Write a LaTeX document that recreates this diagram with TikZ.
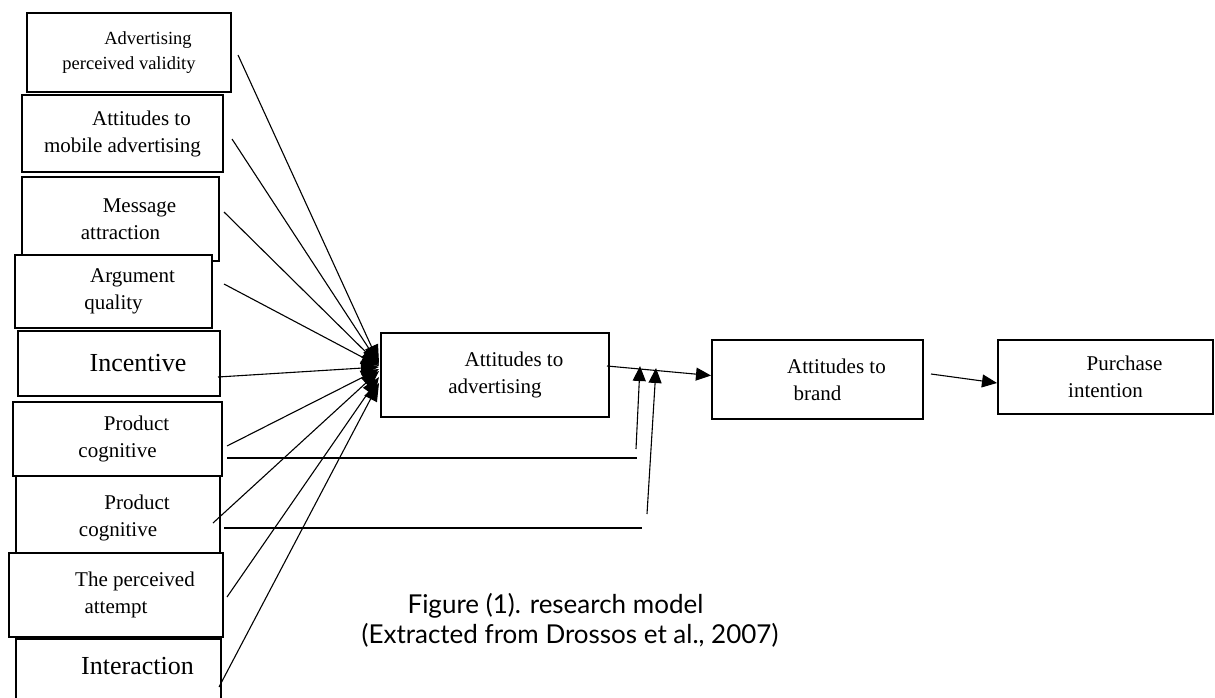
\documentclass[tikz,border=0pt]{standalone}
\usepackage{fontspec}
\setmainfont{Liberation Serif}
\newfontfamily\capfont{Lato}
\usepackage{tikz}
\usetikzlibrary{arrows.meta,calc,positioning}
\tikzset{
  box/.style={draw, fill=white, line width=2pt, inner sep=0pt, align=center,
  font=\fontsize{21}{27}\selectfont},
  link/.style={line width=1.1pt, -{Triangle[length=15pt,width=13pt]}},
  fan/.style={line width=1.1pt, -{Triangle[length=18pt,width=14pt]}},
  plain/.style={line width=1.1pt}
}
\newcommand{\ind}{\hspace*{38pt}}

\begin{document}
\begin{tikzpicture}[x=1pt,y=-1pt]
		\useasboundingbox (0,0) rectangle (1215,698);
		\clip (0,0) rectangle (1215,698);
		% factors on the left
		\node[box, minimum width=204pt, minimum height=79pt, font=\fontsize{18.5}{25}\selectfont] (validity) at (129,52.5) {\ind Advertising\\perceived validity};
		\node[box, minimum width=201pt, minimum height=77pt] (mobile) at (122.5,133.5) {\ind Attitudes to\\mobile advertising};
		\node[box, minimum width=197pt, minimum height=84pt] (message) at (120.5,219) {\ind Message\\attraction};
		\node[box, minimum width=197pt, minimum height=73pt] (argument) at (113.5,291.5) {\ind Argument\\quality};
		\node[box, minimum width=202pt, minimum height=65pt, font=\fontsize{26}{30}\selectfont] (incentive) at (119,363.5) {\ind Incentive};
		\node[box, minimum width=209pt, minimum height=74pt] (cogone) at (117.5,439) {\ind Product\\cognitive};
		\node[box, minimum width=204pt, minimum height=84pt] (cogtwo) at (118,518) {\ind Product\\cognitive};
		\node[box, minimum width=214pt, minimum height=84pt] (attempt) at (116,595) {\ind The perceived\\attempt};
		\node[box, minimum width=205pt, minimum height=70pt, text height=18pt, text depth=18pt, font=\fontsize{26}{30}\selectfont] (interaction) at (118.5,674) {\ind Interaction};
		% main chain
		\node[box, minimum width=228pt, minimum height=84pt] (adatt) at (495,375) {\ind Attitudes to\\advertising};
		\node[box, minimum width=211pt, minimum height=79pt] (brand) at (817.5,379.5) {\ind Attitudes to\\brand};
		\node[box, minimum width=215pt, minimum height=74pt] (intent) at (1105.5,377) {\ind Purchase\\intention};
		\node[font=\capfont\fontsize{26}{30}\selectfont, align=center] (caption) at (570,620) {Figure (1). research model\hspace*{29pt}\\(Extracted from Drossos et al., 2007)};
		% arrows into attitudes to advertising
		\draw[fan] ($(validity.east)+(6,2.5)$) -- ($(adatt.west)+(-1,-12)$);
		\draw[fan] ($(mobile.east)+(8,5.5)$) -- ($(adatt.west)+(-1,-11)$);
		\draw[fan] ($(message.east)+(4,-7)$) -- ($(adatt.west)+(-1,-10)$);
		\draw[fan] ($(argument.east)+(11,-7.5)$) -- ($(adatt.west)+(-1,-9)$);
		\draw[fan] ($(incentive.east)+(-3,13.5)$) -- ($(adatt.west)+(-1,-8)$);
		\draw[fan] ($(cogone.east)+(4,7)$) -- ($(adatt.west)+(-1,-6)$);
		\draw[fan] ($(cogtwo.east)+(-8,5)$) -- ($(adatt.west)+(-1,-4)$);
		\draw[fan] ($(attempt.east)+(3,2)$) -- ($(adatt.west)+(-1,2)$);
		\draw[fan] ($(interaction.east)+(-3,13)$) -- ($(adatt.west)+(-1,8)$);
		% chain arrows
		\draw[link] ($(adatt.east)+(-3,-9)$) -- ($(brand.west)+(0,-4)$);
		\draw[link] ($(brand.east)+(7,-5.5)$) -- ($(intent.west)+(0,6)$);
		% moderating lines
		\coordinate (mone) at (637,458);
		\coordinate (monefoot) at (636,449);
		\coordinate (monetip) at (640,366);
		\coordinate (mtwo) at (642,528);
		\coordinate (mtwofoot) at (647,514);
		\coordinate (mtwotip) at (656,368);
		\draw[plain] ($(cogone.east)+(4,19)$) -- (mone);
		\draw[link] (monefoot) -- (monetip);
		\draw[plain] ($(cogtwo.east)+(3,10)$) -- (mtwo);
		\draw[link] (mtwofoot) -- (mtwotip);
\end{tikzpicture}
\end{document}
